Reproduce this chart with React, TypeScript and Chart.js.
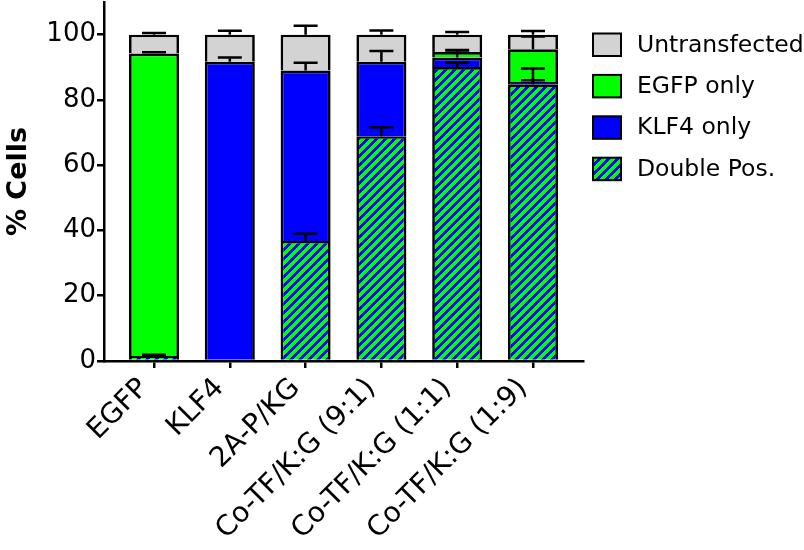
import { useEffect, useRef } from 'react';
import { Chart, registerables } from 'chart.js';

Chart.register(...registerables);

// ---- data ----
const categories = ['EGFP', 'KLF4', '2A-P/KG', 'Co-TF/K:G (9:1)', 'Co-TF/K:G (1:1)', 'Co-TF/K:G (1:9)'];
const doublePos = [1.5, 0, 36.8, 68.9, 90.1, 84.8];
const doublePosErr = [0.4, 0, 2.2, 2.7, 1.3, 4.8];
const klf4Only = [0, 91.7, 52.2, 22.8, 2.9, 0.7];
const klf4OnlyErr = [0, 1.3, 2.4, 3.3, 1.5, 0.5];
const egfpOnly = [92.7, 0, 0, 0, 1.7, 10.0];
const egfpOnlyErr = [0.4, 0, 0, 0, 0.6, 3.9];
const untransfected = [5.8, 8.3, 11.0, 8.3, 5.3, 4.5];
const untransfectedErr = [0.5, 1.2, 2.7, 1.3, 0.8, 1.1];
const yTicks = [0, 20, 40, 60, 80, 100];

const FONT = "'DejaVu Sans', 'Liberation Sans', Arial, sans-serif";

const errorBarsPlugin = {
  id: 'errorBars',
  afterDatasetsDraw(chart: any) {
    const ctx = chart.ctx;
    const yScale = chart.scales.y;
    const xScale = chart.scales.x;
    ctx.save();
    ctx.strokeStyle = '#000';
    ctx.lineWidth = 2.5;
    chart.data.datasets.forEach((ds: any, d: number) => {
      const errs: number[] = ds.errors;
      if (!errs) return;
      ds.data.forEach((pt: any, i: number) => {
        const v = pt.y;
        const e = errs[i];
        if (!v || !e) return;
        let cum = 0;
        for (let k = 0; k <= d; k++) cum += chart.data.datasets[k].data[i].y;
        const x = xScale.getPixelForValue(i);
        const y0 = yScale.getPixelForValue(cum);
        const y1 = yScale.getPixelForValue(cum + e);
        ctx.beginPath();
        ctx.moveTo(x, y0);
        ctx.lineTo(x, y1);
        ctx.moveTo(x - 12, y1);
        ctx.lineTo(x + 12, y1);
        ctx.stroke();
      });
    });
    ctx.restore();
  },
};

const customLegendPlugin = {
  id: 'customLegend',
  afterDraw(chart: any) {
    const ctx = chart.ctx;
    const dsList = chart.data.datasets;
    const order = dsList.map((_: any, i: number) => i).reverse();
    const boxX = chart.chartArea.right + 10;
    const textX = boxX + 44;
    const top0 = 33.5;
    const step = 41.4;
    ctx.save();
    order.forEach((di: number, n: number) => {
      const ds = dsList[di];
      const by = top0 + n * step;
      ctx.fillStyle = ds.backgroundColor;
      ctx.fillRect(boxX, by, 28, 22.5);
      ctx.strokeStyle = '#000';
      ctx.lineWidth = 2;
      ctx.strokeRect(boxX, by, 28, 22.5);
      ctx.fillStyle = '#000';
      ctx.font = `23.5px ${FONT}`;
      ctx.textAlign = 'left';
      ctx.textBaseline = 'middle';
      ctx.fillText(ds.label, textX, by + 12);
    });
    ctx.restore();
  },
};

export default function App() {
  const canvasRef = useRef<HTMLCanvasElement | null>(null);

  useEffect(() => {
    document.body.style.margin = '0';
    const canvas = canvasRef.current!;
    const ctx = canvas.getContext('2d')!;

    const P = 9;
    const tile = document.createElement('canvas');
    tile.width = P;
    tile.height = P;
    const tg = tile.getContext('2d')!;
    tg.fillStyle = '#00FF00';
    tg.fillRect(0, 0, P, P);
    tg.fillStyle = '#0000FF';
    for (let yy = 0; yy < P; yy++) {
      for (let xx = 0; xx < P; xx++) {
        if ((xx + yy) % P < 4) tg.fillRect(xx, yy, 1, 1);
      }
    }
    const stripes = ctx.createPattern(tile, 'repeat');

    const toPts = (arr: number[]) => arr.map((v, i) => ({ x: i, y: v }));

    const common = {
      borderColor: '#000',
      borderWidth: 2.7,
      barPercentage: 0.66,
      categoryPercentage: 1,
    };

    const chart = new Chart(ctx, {
      type: 'bar',
      data: {
        datasets: [
          { label: 'Double Pos.', data: toPts(doublePos), backgroundColor: stripes, errors: doublePosErr, ...common } as any,
          { label: 'KLF4 only', data: toPts(klf4Only), backgroundColor: '#0000FF', errors: klf4OnlyErr, ...common } as any,
          { label: 'EGFP only', data: toPts(egfpOnly), backgroundColor: '#00FF00', errors: egfpOnlyErr, ...common } as any,
          { label: 'Untransfected', data: toPts(untransfected), backgroundColor: '#D3D3D3', errors: untransfectedErr, ...common } as any,
        ],
      },
      options: {
        animation: false,
        responsive: false,
        maintainAspectRatio: false,
        layout: { padding: { top: 2, right: 221, left: 0, bottom: 0 } },
        plugins: {
          legend: { display: false },
          tooltip: { enabled: false },
        },
        scales: {
          x: {
            type: 'linear',
            stacked: true,
            min: -0.66,
            max: 5.66,
            offset: false,
            afterFit(scale: any) {
              scale.height = 189;
              scale.paddingLeft = 0;
              scale.paddingRight = 0;
            },
            afterBuildTicks(scale: any) {
              scale.ticks = categories.map((_, i) => ({ value: i }));
            },
            grid: {
              offset: false,
              drawOnChartArea: false,
              drawTicks: true,
              tickLength: 7,
              color: '#000',
              lineWidth: 2.5,
            },
            border: { display: true, color: '#000', width: 2.5 },
            ticks: {
              autoSkip: false,
              minRotation: 45,
              maxRotation: 45,
              padding: 4,
              labelOffset: -10,
              color: '#000',
              font: { family: FONT, size: 28 },
              callback: (v: any) => categories[v] ?? '',
            },
          },
          y: {
            type: 'linear',
            stacked: true,
            min: 0,
            max: 110,
            afterFit(scale: any) {
              scale.width = 104;
              scale.paddingTop = 0;
              scale.paddingBottom = 0;
            },
            afterBuildTicks(scale: any) {
              scale.ticks = yTicks.map((v) => ({ value: v }));
            },
            grid: {
              drawOnChartArea: false,
              drawTicks: true,
              tickLength: 7,
              color: '#000',
              lineWidth: 2.5,
            },
            border: { display: true, color: '#000', width: 2.5 },
            ticks: {
              padding: 1,
              color: '#000',
              font: { family: FONT, size: 26 },
            },
            title: {
              display: true,
              text: '% Cells',
              color: '#000',
              font: { family: FONT, size: 27, weight: 'bold' },
              padding: { top: 3, bottom: 0 },
            },
          },
        },
      } as any,
      plugins: [errorBarsPlugin, customLegendPlugin],
    });

    return () => chart.destroy();
  }, []);

  return (
    <div style={{ width: 804, height: 550 }}>
      <canvas ref={canvasRef} width={804} height={550} style={{ display: 'block' }} />
    </div>
  );
}
